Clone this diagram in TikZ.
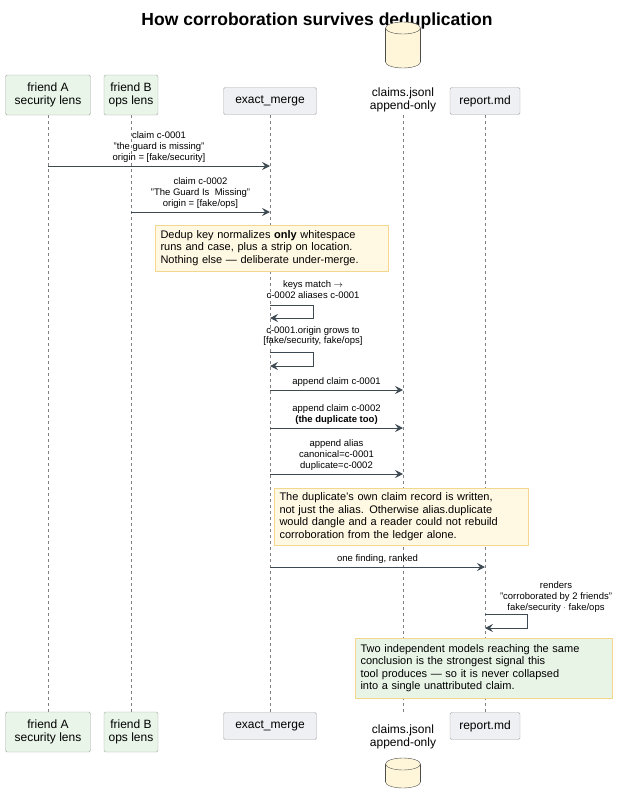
\documentclass[tikz,border=0pt]{standalone}
\usepackage{fontspec}
\setmainfont{Liberation Sans}
\usetikzlibrary{shapes.geometric,arrows.meta,positioning}
\definecolor{lineclr}{HTML}{3E4A52}
\definecolor{friendfill}{HTML}{E9F5E9}
\definecolor{toolfill}{HTML}{EEF0F3}
\definecolor{notefill}{HTML}{FFF8E3}
\definecolor{noteline}{HTML}{F3D78E}
\definecolor{greenfill}{HTML}{E8F4E6}
\definecolor{dbfill}{HTML}{FFF6DA}

\begin{document}
\begin{tikzpicture}[x=1pt,y=-1pt,
  actor/.style={rectangle,draw=gray!70,rounded corners=1.5pt,align=center,font=\fontsize{12}{13}\selectfont,inner sep=4pt},
  friend/.style={actor,fill=friendfill},
  tool/.style={actor,fill=toolfill},
  msg/.style={draw=lineclr,line width=0.9pt,-{Stealth[length=8pt,width=8pt,inset=3pt]}},
  lbl/.style={font=\fontsize{9.5}{10.8}\selectfont,align=center,inner sep=1pt},
  life/.style={draw=gray,dashed},
  note/.style={draw=noteline,fill=notefill,align=left,font=\fontsize{11}{12.5}\selectfont}]
\useasboundingbox (0,0) rectangle (634,790);
\node[font=\bfseries\fontsize{17.5}{20}\selectfont] (title) at (317,21) {How corroboration survives deduplication};
% lifelines
\foreach \x/\n in {48/A,131/B,270/M,403/C,485/R}{
  \coordinate (t\n) at (\x,115);
  \coordinate (b\n) at (\x,713);
  \draw[life] (t\n) -- (b\n);
}
% participants, top and bottom
\foreach \y/\yy/\s in {95/101/top,732/726/bot}{
  \node[friend,minimum width=85pt,minimum height=40pt] (fa\s) at (48,\y) {friend A\\security lens};
  \node[friend,minimum width=54pt,minimum height=40pt] (fb\s) at (131,\y) {friend B\\ops lens};
  \node[tool,minimum width=93pt,minimum height=27pt] (em\s) at (270,\yy) {exact\_merge};
  \node[tool,minimum width=70pt,minimum height=27pt] (rp\s) at (485,\yy) {report.md};
}
% cylinders for the ledger
\foreach \ta/\tb in {28/62,764/782}{
  \draw[black!70,fill=dbfill] (403,\tb) ellipse [x radius=17.5,y radius=6];
  \fill[dbfill] (385.5,\ta) rectangle (420.5,\tb);
  \draw[black!70] (385.5,\ta) -- (385.5,\tb) (420.5,\ta) -- (420.5,\tb);
  \draw[black!70,fill=dbfill] (403,\ta) ellipse [x radius=17.5,y radius=6];
}
\node[lbl,font=\fontsize{12}{13}\selectfont] (cltop) at (403,100) {claims.jsonl\\append-only};
\node[lbl,font=\fontsize{12}{13}\selectfont] (clbot) at (403,737) {claims.jsonl\\append-only};
% messages
\coordinate (m1a) at (48,166); \coordinate (m1b) at (270,166);
\draw[msg] (m1a) -- (m1b) node[lbl,midway,above=2pt] {claim c-0001\\"the guard is missing"\\origin = [fake/security]};
\coordinate (m2a) at (131,212); \coordinate (m2b) at (270,212);
\draw[msg] (m2a) -- (m2b) node[lbl,midway,above=2pt] {claim c-0002\\"The Guard Is\ \ Missing"\\origin = [fake/ops]};
\node[note,minimum width=233pt,minimum height=46pt,text width=222pt] (n1) at (271.5,248) {Dedup key normalizes \textbf{only} whitespace\\runs and case, plus a strip on location.\\Nothing else --- deliberate under-merge.};
\coordinate (s1a) at (270,305); \coordinate (s1b) at (270,318);
\draw[msg] (s1a) -- ++(43,0) |- (s1b);
\node[lbl] (s1l) at (313,290) {keys match $\rightarrow$\\c-0002 aliases c-0001};
\coordinate (s2a) at (270,352); \coordinate (s2b) at (270,366);
\draw[msg] (s2a) -- ++(43,0) |- (s2b);
\node[lbl] (s2l) at (313,336) {c-0001.origin grows to\\{[fake/security, fake/ops]}};
\coordinate (m3a) at (270,390); \coordinate (m3b) at (403,390);
\draw[msg] (m3a) -- (m3b) node[lbl,midway,above=2pt] {append claim c-0001};
\coordinate (m4a) at (270,428); \coordinate (m4b) at (403,428);
\draw[msg] (m4a) -- (m4b) node[lbl,midway,above=2pt] {append claim c-0002\\\textbf{(the duplicate too)}};
\coordinate (m5a) at (270,474); \coordinate (m5b) at (403,474);
\draw[msg] (m5a) -- (m5b) node[lbl,midway,above=2pt] {append alias\\canonical=c-0001\\duplicate=c-0002};
\node[note,minimum width=254pt,minimum height=57pt,text width=243pt] (n2) at (401,516.5) {The duplicate's own claim record is written,\\not just the alias. Otherwise alias.duplicate\\would dangle and a reader could not rebuild\\corroboration from the ledger alone.};
\coordinate (m6a) at (270,567); \coordinate (m6b) at (485,567);
\draw[msg] (m6a) -- (m6b) node[lbl,midway,above=2pt] {one finding, ranked};
\coordinate (s3a) at (485,614); \coordinate (s3b) at (485,628);
\draw[msg] (s3a) -- ++(42,0) |- (s3b);
\node[lbl] (s3l) at (556,597) {renders\\"corroborated by 2 friends"\\fake/security $\cdot$ fake/ops};
\node[note,fill=greenfill,minimum width=257pt,minimum height=60pt,text width=246pt] (n3) at (483.5,668) {Two independent models reaching the same\\conclusion is the strongest signal this\\tool produces --- so it is never collapsed\\into a single unattributed claim.};
\end{tikzpicture}
\end{document}
